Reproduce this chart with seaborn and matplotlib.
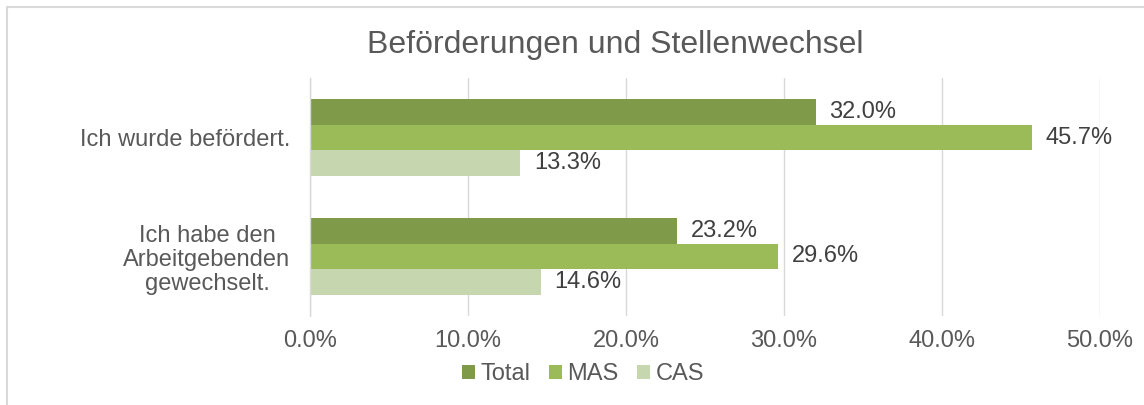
import matplotlib
matplotlib.use("Agg")
import matplotlib.pyplot as plt
import seaborn as sns
import pandas as pd
from matplotlib.patches import Rectangle
from matplotlib.ticker import FuncFormatter

categories = ["Ich wurde befördert.", "Ich habe den\nArbeitgebenden\ngewechselt."]
series = ["Total", "MAS", "CAS"]
total = [32.0, 23.2]
mas = [45.7, 29.6]
cas = [13.3, 14.6]
xticks = [0, 10, 20, 30, 40, 50]
colors = ["#7F9A48", "#9BBB59", "#C6D7B0"]

rows = []
for s, vals in zip(series, [total, mas, cas]):
    for c, v in zip(categories, vals):
        rows.append({"cat": c, "series": s, "val": v})
df = pd.DataFrame(rows)

sns.set_theme(style="white")
plt.rcParams['font.family'] = ['Liberation Sans', 'DejaVu Sans']
txt = "#595959"

fig = plt.figure(figsize=(11.44, 4.05), dpi=100)
ax = fig.add_axes([310/1144, 1-316/405, 790/1144, 238/405])

sns.barplot(data=df, y="cat", x="val", hue="series", orient="h",
            palette=colors, order=categories, hue_order=series,
            width=0.655, saturation=1, linewidth=0, ax=ax, legend=True)

ax.set_xlim(0, 50)
ax.set_xticks(xticks)
ax.xaxis.set_major_formatter(FuncFormatter(lambda v, p: f"{v:.1f}%"))
ax.grid(axis="x", color="#D9D9D9", linewidth=1)
ax.set_axisbelow(True)
for s in ["top", "right", "bottom"]:
    ax.spines[s].set_visible(False)
ax.spines["left"].set_color("#D9D9D9")
ax.spines["left"].set_linewidth(1)
ax.set_xlabel("")
ax.set_ylabel("")
ax.tick_params(axis="both", length=0, labelsize=17, labelcolor=txt)
ax.tick_params(axis="x", pad=10)
ax.tick_params(axis="y", pad=14)
for lab in ax.get_yticklabels():
    lab.set_multialignment("center")
    lab.set_linespacing(1.1)

for cont in ax.containers:
    ax.bar_label(cont, labels=[f"{v:.1f}%" for v in cont.datavalues],
                 padding=10, fontsize=17, color="#404040")

handles, labels = ax.get_legend_handles_labels()
ax.get_legend().remove()
fig.legend(handles, labels, loc="center", bbox_to_anchor=(583/1144, 1-374/405),
           ncol=3, frameon=False, fontsize=17, labelcolor=txt,
           handlelength=0.55, handleheight=0.55, handletextpad=0.25,
           columnspacing=0.75)

fig.text(615/1144, 1-45/405, "Beförderungen und Stellenwechsel",
         ha="center", va="center", fontsize=23, color=txt)

rect = Rectangle((7/1144, -0.05), 1.2, 1 - 7/405 + 0.05, transform=fig.transFigure,
                 fill=False, edgecolor="#D9D9D9", linewidth=1.5)
fig.patches.append(rect)

fig.savefig("out.png", dpi=100)
